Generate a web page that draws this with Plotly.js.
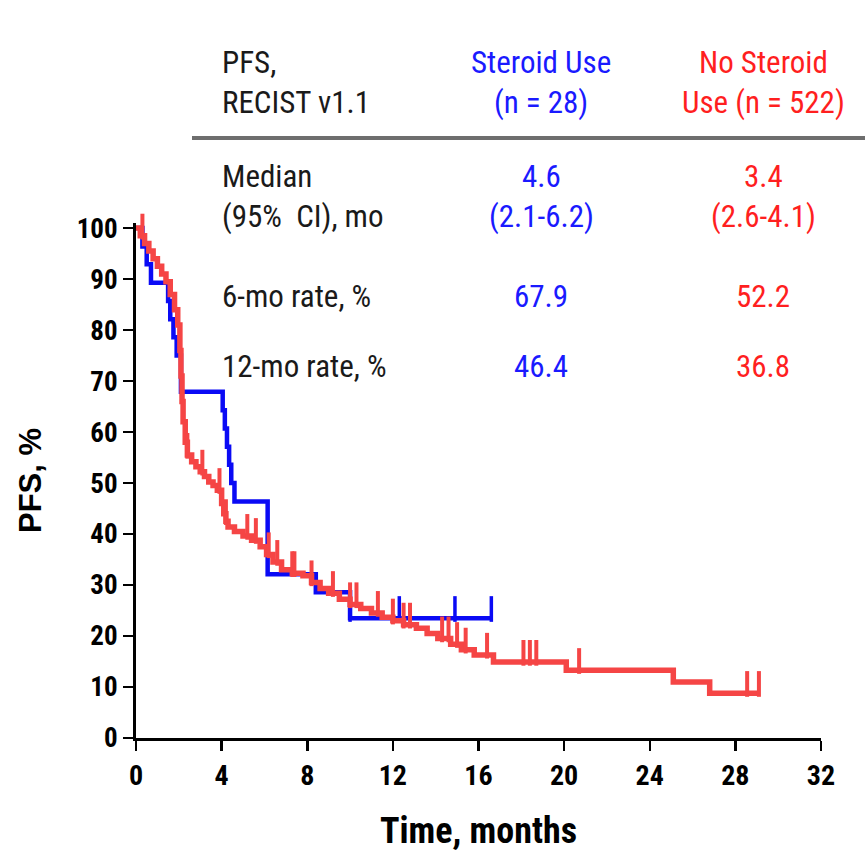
<!DOCTYPE html>
<html><head><meta charset="utf-8">
<script src="https://cdn.plot.ly/plotly-3.0.1.min.js"></script>
<style>html,body{margin:0;padding:0;background:#fff}#chart{width:865px;height:858px}</style>
</head><body><div id="chart"></div>
<script>
// Steroid use (n = 28)
const steroidTime = [0, 0.3, 0.5, 0.7, 1.5, 1.6, 1.75, 1.9, 2.1, 4.05, 4.15, 4.25, 4.35, 4.45, 4.6, 6.15, 8.4, 10.0, 16.6];
const steroidSurv = [100, 96.4, 92.9, 89.3, 85.7, 82.1, 78.6, 75.0, 67.9, 64.3, 60.7, 57.1, 53.6, 50.0, 46.4, 32.1, 28.6, 23.5, 23.5];
const steroidCensor = [10.0, 12.3, 14.9, 16.6];

// No steroid use (n = 522)
const noSteroidTime = [0,0.2,0.4,0.6,0.8,1.0,1.2,1.4,1.6,1.8,1.95,2.05,2.1,2.15,2.2,2.3,2.4,2.6,2.8,3.0,3.2,3.4,3.6,3.8,4.0,4.1,4.2,4.3,4.6,5.0,5.4,5.8,6.1,6.4,6.8,7.3,7.8,8.2,8.6,9.0,9.5,10.0,10.5,11.0,11.5,12.0,12.5,13.1,13.6,14.1,14.7,15.2,15.8,16.7,20.1,25.1,26.8,29.1];
const noSteroidSurv = [100,98.5,97,95.5,94,92.5,91,89.5,87,84,81,76,71,66,62,58,55.5,54.2,53.2,52.2,51.3,50.2,49.5,48.6,46,44,42.5,41.4,40.5,39.6,38.8,37.5,36,34.5,33,32.3,31.8,30.5,29.3,28.4,27.2,26.2,25.4,24.5,23.7,23,22.2,21.5,20.5,19.5,18.4,17.3,16.3,14.9,13.3,11,8.8,8.8];
const noSteroidCensor = [0.3, 2.4, 3.1, 3.9, 4.2, 5.2, 5.6, 6.2, 6.6, 7.3, 7.4, 8.2, 9.2, 10.0, 10.3, 11.3, 12.0, 12.5, 12.8, 14.3, 14.6, 15.0, 15.4, 16.4, 18.1, 18.4, 18.7, 20.7, 28.55, 29.1];

// Table
const tableRows = ["PFS,<br>RECIST v1.1", "Median<br>(95%  CI), mo", "6-mo rate, %", "12-mo rate, %"];
const steroidCol = ["Steroid Use<br>(n = 28)", "4.6<br>(2.1-6.2)", "67.9", "46.4"];
const noSteroidCol = ["No Steroid<br>Use (n = 522)", "3.4<br>(2.6-4.1)", "52.2", "36.8"];

const xTicks = [0, 4, 8, 12, 16, 20, 24, 28, 32];
const yTicks = [0, 10, 20, 30, 40, 50, 60, 70, 80, 90, 100];

const BLUE = '#0a0af5', RED = '#f54545';
const TXT_BLUE = '#1a1aff', TXT_RED = '#ff1f1f';
const NARROW = 'Roboto Condensed, sans-serif';

function stepAt(times, surv, t) {
  let v = surv[0];
  for (let i = 0; i < times.length; i++) { if (times[i] <= t) v = surv[i]; }
  return v;
}
const TICK_H = 3.6;
function censorTrace(times, surv, cens, color, w) {
  return {
    x: cens,
    y: cens.map(t => stepAt(times, surv, t) + TICK_H / 2),
    mode: 'markers', type: 'scatter', cliponaxis: false, hoverinfo: 'skip', showlegend: false,
    marker: {symbol: 'line-ns', size: TICK_H * 5.1, line: {color: color, width: w}}
  };
}

const data = [
  {x: steroidTime, y: steroidSurv, mode: 'lines', line: {shape: 'hv', color: BLUE, width: 4.5}, name: 'Steroid Use', showlegend: false},
  censorTrace(steroidTime, steroidSurv, steroidCensor, BLUE, 3.5),
  {x: noSteroidTime, y: noSteroidSurv, mode: 'lines', line: {shape: 'hv', color: RED, width: 5.5}, name: 'No Steroid Use', showlegend: false},
  censorTrace(noSteroidTime, noSteroidSurv, noSteroidCensor, RED, 4)
];

function px(x) { return (x - 136) / (821 - 136); }
function py(y) { return (738 - y) / (738 - 223); }
const rowY = [82, 196, 296, 366];
const annotations = [];
const TF = 31;
tableRows.forEach((t, i) => {
  annotations.push({xref: 'paper', yref: 'paper', x: px(220), y: py(rowY[i]), xanchor: 'left', yanchor: 'middle', align: 'left',
    text: t, showarrow: false, font: {family: NARROW, size: TF, color: '#1a1a1a'}});
  annotations.push({xref: 'paper', yref: 'paper', x: px(541), y: py(rowY[i]), xanchor: 'center', yanchor: 'middle', align: 'center',
    text: steroidCol[i], showarrow: false, font: {family: NARROW, size: TF, color: TXT_BLUE}});
  annotations.push({xref: 'paper', yref: 'paper', x: px(763), y: py(rowY[i]), xanchor: 'center', yanchor: 'middle', align: 'center',
    text: noSteroidCol[i], showarrow: false, font: {family: NARROW, size: TF, color: TXT_RED}});
});

const layout = {
  width: 865, height: 858,
  margin: {l: 136, r: 44, t: 223, b: 120},
  paper_bgcolor: '#fff', plot_bgcolor: '#fff',
  showlegend: false,
  xaxis: {
    range: [0, 32], tickvals: xTicks, ticktext: xTicks.map(String),
    showgrid: false, zeroline: false, showline: true, linecolor: '#000', linewidth: 3,
    ticks: 'outside', ticklen: 10, tickwidth: 2.5, tickcolor: '#000',
    tickfont: {family: NARROW, size: 28, color: '#000', weight: 'bold'},
    title: {text: 'Time, months', font: {family: NARROW, size: 36, color: '#000', weight: 'bold'}, standoff: 28}
  },
  yaxis: {
    range: [0, 101], tickvals: yTicks, ticktext: yTicks.map(String),
    showgrid: false, zeroline: false, showline: true, linecolor: '#000', linewidth: 3,
    ticks: 'outside', ticklen: 10, tickwidth: 2.5, tickcolor: '#000',
    tickfont: {family: NARROW, size: 27, color: '#000', weight: 'bold'},
    title: {text: 'PFS, %', font: {family: 'Liberation Sans, Arial, sans-serif', size: 31, color: '#000', weight: 'bold'}, standoff: 26}
  },
  annotations: annotations,
  shapes: [
    {type: 'line', xref: 'paper', yref: 'paper', x0: px(192), x1: px(865), y0: py(138), y1: py(138), line: {color: '#6e6e6e', width: 4}}
  ]
};

Plotly.newPlot('chart', data, layout, {displayModeBar: false, staticPlot: true});
</script>
</body></html>
